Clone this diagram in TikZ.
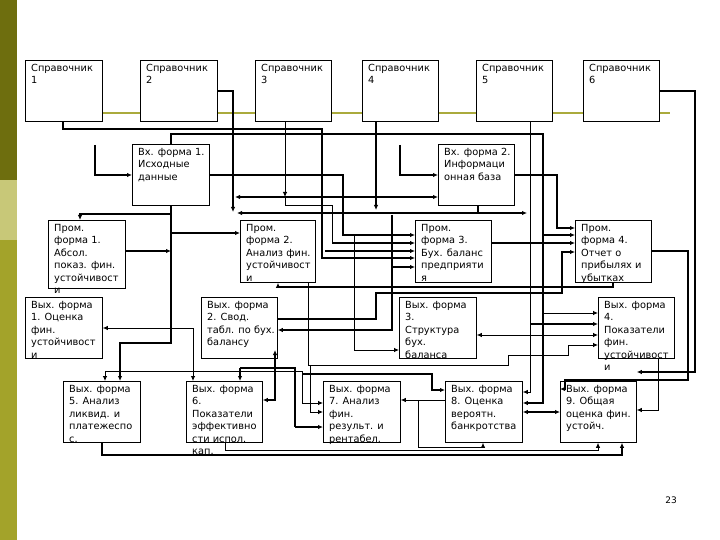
\documentclass[tikz,border=0pt]{standalone}
\usepackage{fontspec}
\setmainfont{DejaVu Sans}
\usetikzlibrary{arrows.meta}
\definecolor{oliveD}{RGB}{110,110,14}
\definecolor{oliveL}{RGB}{200,200,120}
\definecolor{oliveM}{RGB}{163,163,42}
\definecolor{oliveLine}{RGB}{170,170,60}
\begin{document}
\begin{tikzpicture}[x=1pt,y=-1pt,
  box/.style={draw,line width=0.8pt,fill=white,anchor=north west,inner sep=0pt},
  txt/.style={anchor=north west,inner sep=0pt,align=left,font=\fontsize{9.8}{12.5}\selectfont},
  T/.style={line width=1.7pt,-{Latex[length=5pt,width=4.5pt]}},
  t/.style={line width=0.8pt,-{Latex[length=5pt,width=4.5pt]}},
  TT/.style={line width=1.7pt,{Latex[length=5pt,width=4.5pt]}-{Latex[length=5pt,width=4.5pt]}},
  tt/.style={line width=0.8pt,{Latex[length=5pt,width=4.5pt]}-{Latex[length=5pt,width=4.5pt]}},
  Tn/.style={line width=1.7pt},
  tn/.style={line width=0.8pt}]
\useasboundingbox (0,0) rectangle (720,540);
\fill[white] (0,0) rectangle (720,540);
\fill[oliveD] (0,0) rectangle (17,180);
\fill[oliveL] (0,180) rectangle (17,240);
\fill[oliveM] (0,240) rectangle (17,540);
\draw[oliveLine,line width=2pt] (100,113) -- (670,113);
% boxes
\newcommand{\bx}[5]{\node[box,minimum width=#4pt,minimum height=#5pt] (#1) at (#2,#3) {};}
\bx{s1}{25}{60}{77}{61}\bx{s2}{140}{60}{77}{61}\bx{s3}{255}{60}{76}{61}
\bx{s4}{362}{60}{76}{61}\bx{s5}{476}{60}{76}{61}\bx{s6}{583}{60}{76}{61}
\bx{i1}{132}{144}{77}{61}\bx{i2}{438}{144}{76}{61}
\bx{p1}{48}{220}{77}{68}\bx{p2}{240}{220}{75}{62}\bx{p3}{415}{220}{76}{62}\bx{p4}{575}{220}{76}{62}
\bx{o1}{25}{297}{77}{61}\bx{o2}{201}{297}{76}{61}\bx{o3}{399}{297}{77}{61}\bx{o4}{598}{297}{76}{61}
\bx{o5}{63}{381}{77}{61}\bx{o6}{186}{381}{76}{61}\bx{o7}{323}{381}{77}{61}\bx{o8}{445}{381}{77}{61}\bx{o9}{560}{381}{76}{61}
% connectors
\draw[T] (s1.south -| 63,0) -- (63,129) -- (322,129) -- (322,258) -- (p3.west |- 0,258);
\draw[T] (s2.east |- 0,91) -- (233,91) -- (233,212);
\draw[t] (s3.south -| 285,0) -- (285,197);
\draw[tn] (285,197) -- (285,205) -- (332,205) -- (332,243);
\draw[T] (332,243) -- (p3.west |- 0,243);
\draw[T] (i1.east |- 0,175) -- (343,175) -- (343,235) -- (p3.west |- 0,235);
\draw[T] (s4.south -| 376,0) -- (376,210);
\draw[T] (i1.north -| 171,0) -- (171,134) -- (543,134) -- (543,403) -- (o8.east |- 0,403);
\draw[t] (s5.south -| 530,0) -- (530,392) -- (o8.east |- 0,392);
\draw[T] (s6.east |- 0,91) -- (695,91) -- (695,372) -- (o9.east |- 0,372);
\draw[T] (95,145) -- (95,175) -- (i1.west |- 0,175);
\draw[T] (400,145) -- (400,175) -- (i2.west |- 0,175);
\draw[TT] (235,197) -- (i2.west |- 0,197);
\draw[T] (i2.south -| 478,0) -- (478,213) -- (237,213);
\draw[T] (478,213) -- (527,213);
\draw[T] (i1.south -| 171,0) -- (171,343) -- (120,343) -- (o5.north -| 120,0);
\draw[T] (171,214) -- (80,214) -- (p1.north -| 80,0);
\draw[T] (171,233) -- (p2.west |- 0,233);
\draw[T] (p1.east |- 0,251) -- (171,251);
\draw[T] (392,215) -- (392,267) -- (p3.west |- 0,267);
\draw[T] (325,251) -- (p3.west |- 0,251);
\draw[T] (i2.east |- 0,175) -- (557,175) -- (557,228) -- (p4.west |- 0,228);
\draw[T] (p3.east |- 0,243) -- (p4.west |- 0,243);
\draw[T] (543,235) -- (p4.west |- 0,235);
\draw[T] (o2.east |- 0,319) -- (376,319) -- (376,293) -- (562,293) -- (562,252) -- (p4.west |- 0,252);
\draw[T] (392,267) -- (392,330) -- (o2.east |- 0,330);
\draw[t] (354,235) -- (354,350) -- (o3.west |- 0,350);
\draw[T] (p4.east |- 0,251) -- (688,251) -- (688,380) -- (565,380) -- (565,389) -- (o9.west |- 0,389);
\draw[t] (543,313) -- (o4.west |- 0,313);
\draw[T] (530,324) -- (o4.west |- 0,324);
\draw[tt] (o3.east |- 0,335) -- (o4.west |- 0,335);
\draw[t] (508,355) -- (568,355) -- (568,345) -- (o4.west |- 0,345);
\draw[t] (o4.south -| 658,0) -- (658,410) -- (o9.east |- 0,410);
\draw[TT] (o8.east |- 0,412) -- (o9.west |- 0,412);
\draw[tn] (p2.south -| 308,0) -- (308,365) -- (508,365) -- (508,355);
\draw[t] (310,365) -- (310,412) -- (o7.west |- 0,412);
\draw[T] (613,282) -- (613,287) -- (278,287) -- (p2.south -| 278,0);
\draw[tt] (o1.east |- 0,328) -- (193,328) -- (o6.north -| 193,0);
\draw[t] (130,371) -- (105,371) -- (o5.north -| 105,0);
\draw[tn] (130,371) -- (302,371) -- (302,403);
\draw[t] (302,403) -- (o7.west |- 0,403);
\draw[T] (240,368) -- (o6.north -| 240,0);
\draw[Tn] (240,368) -- (295,368) -- (295,427);
\draw[T] (295,427) -- (o7.west |- 0,427);
\draw[T] (302,374) -- (432,374) -- (432,390) -- (o8.west |- 0,390);
\draw[T] (275,374) -- (275,350);
\draw[T] (275,374) -- (275,400) -- (o6.east |- 0,400);
\draw[t] (o8.west |- 0,400) -- (o7.east |- 0,400);
\draw[t] (418,400) -- (418,447) -- (483,447) -- (o8.south -| 483,0);
\draw[T] (o5.south -| 102,0) -- (102,455) -- (622,455) -- (o9.south -| 622,0);
\draw[t] (o6.south -| 225,0) -- (225,450) -- (598,450) -- (o9.south -| 598,0);
% texts
\newcommand{\tx}[3]{\node[txt] (#1) at ([shift={(6,4)}]#2.north west) {#3};}
\tx{ts1}{s1}{Справочник\\1}\tx{ts2}{s2}{Справочник\\2}\tx{ts3}{s3}{Справочник\\3}
\tx{ts4}{s4}{Справочник\\4}\tx{ts5}{s5}{Справочник\\5}\tx{ts6}{s6}{Справочник\\6}
\tx{ti1}{i1}{Вх. форма 1.\\Исходные\\данные}
\tx{ti2}{i2}{Вх. форма 2.\\Информаци\\онная база}
\tx{tp1}{p1}{Пром.\\форма 1.\\Абсол.\\показ. фин.\\устойчивост\\и}
\tx{tp2}{p2}{Пром.\\форма 2.\\Анализ фин.\\устойчивост\\и}
\tx{tp3}{p3}{Пром.\\форма 3.\\Бух. баланс\\предприяти\\я}
\tx{tp4}{p4}{Пром.\\форма 4.\\Отчет о\\прибылях и\\убытках}
\tx{to1}{o1}{Вых. форма\\1. Оценка\\фин.\\устойчивост\\и}
\tx{to2}{o2}{Вых. форма\\2. Свод.\\табл. по бух.\\балансу}
\tx{to3}{o3}{Вых. форма\\3.\\Структура\\бух.\\баланса}
\tx{to4}{o4}{Вых. форма\\4.\\Показатели\\фин.\\устойчивост\\и}
\tx{to5}{o5}{Вых. форма\\5. Анализ\\ликвид. и\\платежеспо\\с.}
\tx{to6}{o6}{Вых. форма\\6.\\Показатели\\эффективно\\сти испол.\\кап.}
\tx{to7}{o7}{Вых. форма\\7. Анализ\\фин.\\результ. и\\рентабел.}
\tx{to8}{o8}{Вых. форма\\8. Оценка\\вероятн.\\банкротства}
\tx{to9}{o9}{Вых. форма\\9. Общая\\оценка фин.\\устойч.}
\node[font=\fontsize{9}{10}\selectfont] (pg) at (671,500) {23};
\end{tikzpicture}
\end{document}
